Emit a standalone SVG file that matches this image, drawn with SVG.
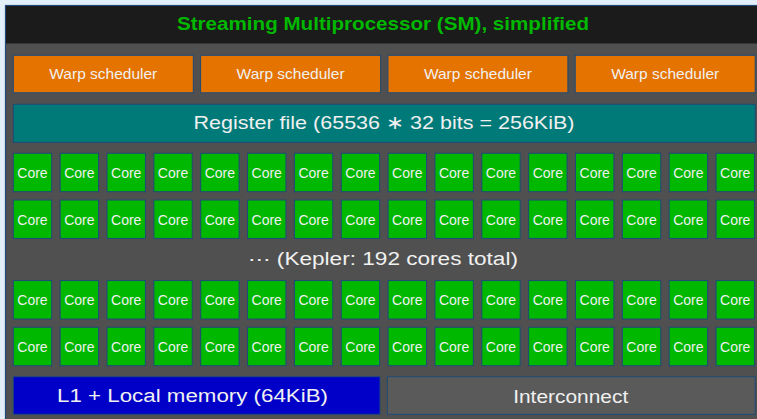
<svg xmlns="http://www.w3.org/2000/svg" width="757" height="419" viewBox="0 0 757 419">
<defs>
<style>
.frame{fill:#505050;stroke:#1f4a78;stroke-width:1.2}
.box{stroke:#1f4a78;stroke-width:1}
.ws{fill:#e57300}
.core{fill:#00b800}
.t{font-family:"Liberation Sans",Arial,sans-serif;fill:#f0f0f0;text-anchor:middle}
.ct{font-size:14px}
</style>
<symbol id="core" overflow="visible">
<rect class="box core" x="0" y="0" width="38.4" height="38.4"/>
<text class="t ct" x="19.2" y="24.5">Core</text>
</symbol>
</defs>
<rect x="0" y="0" width="757" height="419" fill="#e2eef8"/>
<g id="sm">
<rect class="frame" x="5.5" y="5.5" width="760" height="420"/>
<rect x="6" y="6" width="760" height="37.5" fill="#1b1b1b"/>
<text x="383" y="30" font-family="Liberation Sans,Arial,sans-serif" font-weight="bold" font-size="19" fill="#00b800" text-anchor="middle" textLength="412" lengthAdjust="spacingAndGlyphs">Streaming Multiprocessor (SM), simplified</text>
</g>
<g id="warp1"><rect class="box ws" x="13.3" y="55.3" width="180" height="37.5"/><text class="t" x="103.3" y="78.5" font-size="14.5" textLength="108" lengthAdjust="spacingAndGlyphs">Warp scheduler</text></g>
<g id="warp2"><rect class="box ws" x="200.6" y="55.3" width="180" height="37.5"/><text class="t" x="290.6" y="78.5" font-size="14.5" textLength="108" lengthAdjust="spacingAndGlyphs">Warp scheduler</text></g>
<g id="warp3"><rect class="box ws" x="387.9" y="55.3" width="180" height="37.5"/><text class="t" x="477.9" y="78.5" font-size="14.5" textLength="108" lengthAdjust="spacingAndGlyphs">Warp scheduler</text></g>
<g id="warp4"><rect class="box ws" x="575.2" y="55.3" width="180" height="37.5"/><text class="t" x="665.2" y="78.5" font-size="14.5" textLength="108" lengthAdjust="spacingAndGlyphs">Warp scheduler</text></g>
<g id="regfile"><rect class="box" fill="#007a78" x="13.3" y="104.3" width="741.9" height="38"/><text class="t" x="384" y="129" font-size="19" textLength="381" lengthAdjust="spacingAndGlyphs">Register file (65536 ∗ 32 bits = 256KiB)</text></g>
<g id="cores">
<g id="row1">
<use href="#core" x="13.3" y="153.3"/><use href="#core" x="60.15" y="153.3"/><use href="#core" x="107" y="153.3"/><use href="#core" x="153.85" y="153.3"/><use href="#core" x="200.7" y="153.3"/><use href="#core" x="247.55" y="153.3"/><use href="#core" x="294.4" y="153.3"/><use href="#core" x="341.25" y="153.3"/><use href="#core" x="388.1" y="153.3"/><use href="#core" x="434.95" y="153.3"/><use href="#core" x="481.8" y="153.3"/><use href="#core" x="528.65" y="153.3"/><use href="#core" x="575.5" y="153.3"/><use href="#core" x="622.35" y="153.3"/><use href="#core" x="669.2" y="153.3"/><use href="#core" x="716.05" y="153.3"/>
</g>
<g id="row2">
<use href="#core" x="13.3" y="200"/><use href="#core" x="60.15" y="200"/><use href="#core" x="107" y="200"/><use href="#core" x="153.85" y="200"/><use href="#core" x="200.7" y="200"/><use href="#core" x="247.55" y="200"/><use href="#core" x="294.4" y="200"/><use href="#core" x="341.25" y="200"/><use href="#core" x="388.1" y="200"/><use href="#core" x="434.95" y="200"/><use href="#core" x="481.8" y="200"/><use href="#core" x="528.65" y="200"/><use href="#core" x="575.5" y="200"/><use href="#core" x="622.35" y="200"/><use href="#core" x="669.2" y="200"/><use href="#core" x="716.05" y="200"/>
</g>
<g id="row3">
<use href="#core" x="13.3" y="280.6"/><use href="#core" x="60.15" y="280.6"/><use href="#core" x="107" y="280.6"/><use href="#core" x="153.85" y="280.6"/><use href="#core" x="200.7" y="280.6"/><use href="#core" x="247.55" y="280.6"/><use href="#core" x="294.4" y="280.6"/><use href="#core" x="341.25" y="280.6"/><use href="#core" x="388.1" y="280.6"/><use href="#core" x="434.95" y="280.6"/><use href="#core" x="481.8" y="280.6"/><use href="#core" x="528.65" y="280.6"/><use href="#core" x="575.5" y="280.6"/><use href="#core" x="622.35" y="280.6"/><use href="#core" x="669.2" y="280.6"/><use href="#core" x="716.05" y="280.6"/>
</g>
<g id="row4">
<use href="#core" x="13.3" y="327.3"/><use href="#core" x="60.15" y="327.3"/><use href="#core" x="107" y="327.3"/><use href="#core" x="153.85" y="327.3"/><use href="#core" x="200.7" y="327.3"/><use href="#core" x="247.55" y="327.3"/><use href="#core" x="294.4" y="327.3"/><use href="#core" x="341.25" y="327.3"/><use href="#core" x="388.1" y="327.3"/><use href="#core" x="434.95" y="327.3"/><use href="#core" x="481.8" y="327.3"/><use href="#core" x="528.65" y="327.3"/><use href="#core" x="575.5" y="327.3"/><use href="#core" x="622.35" y="327.3"/><use href="#core" x="669.2" y="327.3"/><use href="#core" x="716.05" y="327.3"/>
</g>
</g>
<g id="kepler"><text class="t" x="383" y="265" font-size="18" textLength="270" lengthAdjust="spacingAndGlyphs">⋯ (Kepler: 192 cores total)</text></g>
<g id="l1"><rect class="box" fill="#0000c8" x="13.3" y="376.7" width="366.7" height="37.6"/><text class="t" x="192.5" y="402" font-size="18" textLength="271" lengthAdjust="spacingAndGlyphs">L1 + Local memory (64KiB)</text></g>
<g id="interconnect"><rect class="box" fill="#5a5a5a" x="387.3" y="376.7" width="367.9" height="37.6"/><text class="t" x="570.7" y="402.5" font-size="18" textLength="115" lengthAdjust="spacingAndGlyphs">Interconnect</text></g>
<g id="connectors"/>
</svg>
